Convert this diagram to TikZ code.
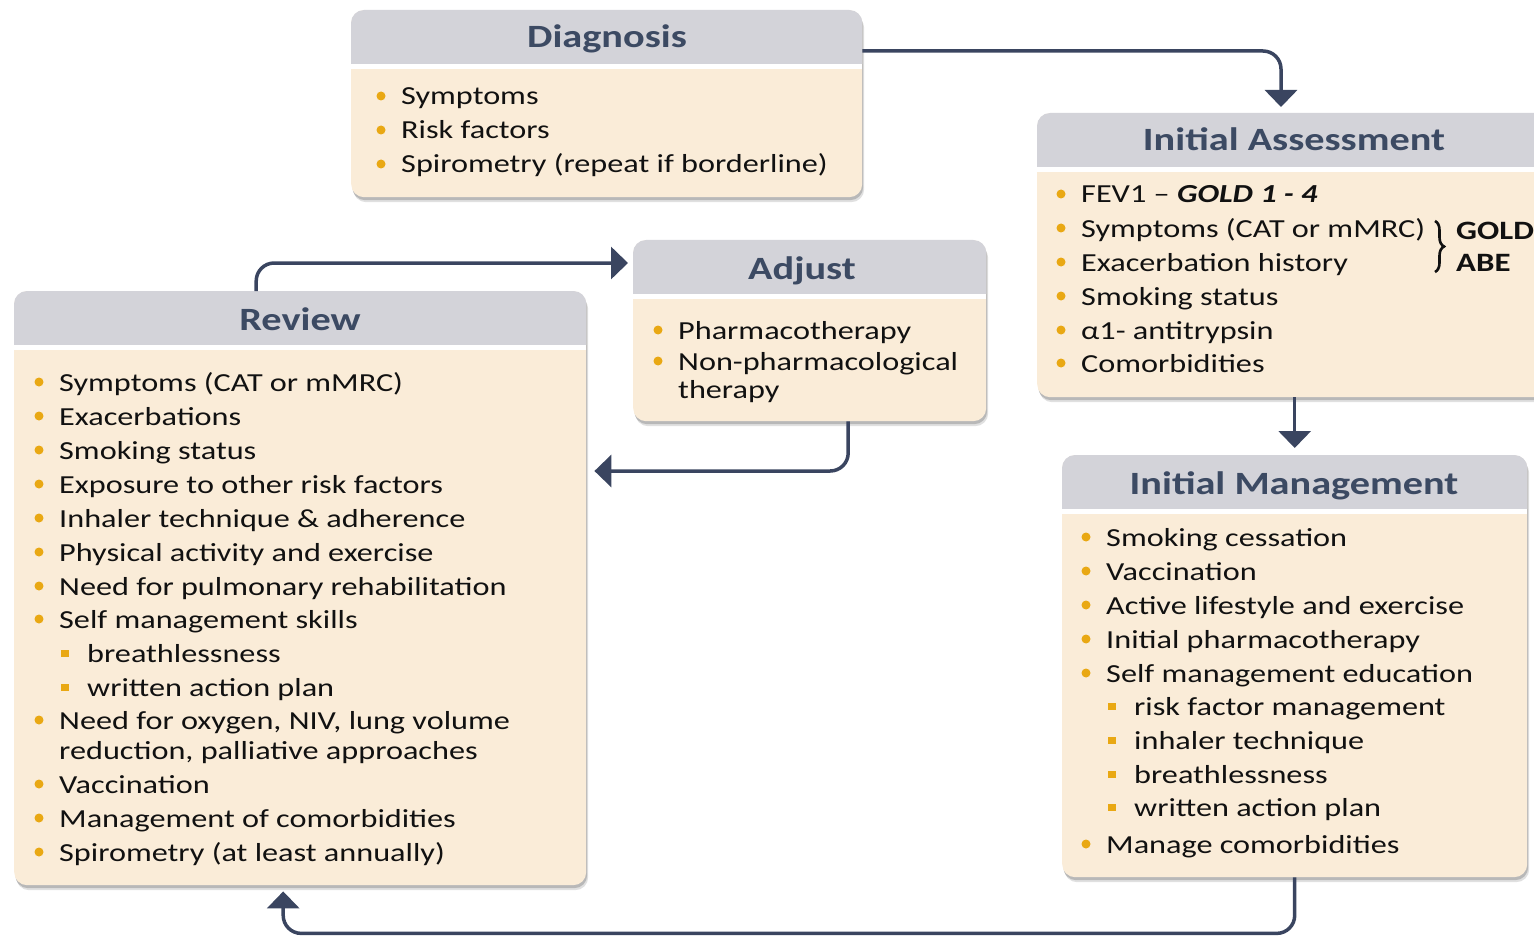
\documentclass[tikz,border=0pt]{standalone}
\usepackage{fontspec}
\setmainfont{Carlito}[FakeStretch=1.24]
\usetikzlibrary{arrows.meta,shadows,decorations.pathreplacing}
\definecolor{hdrc}{HTML}{D3D3D9}
\definecolor{bodyc}{HTML}{FAECD8}
\definecolor{bulc}{HTML}{E9A813}
\definecolor{titc}{HTML}{3C4A63}
\definecolor{arrc}{HTML}{3A4560}
\definecolor{txtc}{HTML}{111111}
\tikzset{
  box/.style={draw=none, fill=bodyc, rounded corners=13pt, anchor=north west, inner sep=0pt,
    drop shadow={shadow xshift=2pt, shadow yshift=-5pt, opacity=0.12, fill=black},
    drop shadow={shadow xshift=1pt, shadow yshift=-3pt, opacity=0.18, fill=black}},
  tit/.style={anchor=base, inner sep=0pt, font=\fontsize{32.5}{36}\selectfont\bfseries, text=titc},
  itm/.style={anchor=base west, inner sep=0pt, font=\fontsize{26}{30}\selectfont, text=txtc},
  arr/.style={draw=arrc, line width=3.5pt, rounded corners=18pt, -{Triangle[width=32pt,length=17pt]}},
}
\newcommand\hdrband[1]{%
  \fill[hdrc] ([yshift=-54pt]#1.north west) [rounded corners=13pt] -- (#1.north west) -- (#1.north east) [sharp corners] -- ([yshift=-54pt]#1.north east) -- cycle;
  \fill[white] ([yshift=-54pt]#1.north west) rectangle ([yshift=-59pt]#1.north east);}
\newcommand\bul[4]{\fill[bulc] (#2-20,#3-1) circle (4.5); \node[itm] (#1) at (#2,#3+8) {#4};}
\newcommand\sqb[4]{\fill[bulc] (#2-26,#3-4) rectangle ++(8,7); \node[itm] (#1) at (#2,#3+8) {#4};}
\newcommand\cnt[4]{\node[itm] (#1) at (#2,#3+8) {#4};}
\begin{document}
\begin{tikzpicture}[x=1pt,y=-1pt]
\useasboundingbox (0,0) rectangle (1534,936);
\clip (0,0) rectangle (1534,936);
% boxes
\node[box, minimum width=511pt, minimum height=187pt] (diag) at (351,10) {};
\node[box, minimum width=515pt, minimum height=284pt] (ia) at (1037,113) {};
\node[box, minimum width=465pt, minimum height=422pt] (im) at (1062,455) {};
\node[box, minimum width=572pt, minimum height=594pt] (rev) at (14,291) {};
\node[box, minimum width=353pt, minimum height=181pt] (adj) at (633,240) {};
\hdrband{diag}\hdrband{ia}\hdrband{im}\hdrband{rev}\hdrband{adj}
% titles
\node[tit] (diagT) at (607,48) {Diagnosis};
\node[tit] (iaT) at (1294,151) {Initial Assessment};
\node[tit] (imT) at (1294,494) {Initial Management};
\node[tit] (revT) at (300,330) {Review};
\node[tit] (adjT) at (802,279) {Adjust};
% Diagnosis items
\bul{d1}{401}{97}{Symptoms}
\bul{d2}{401}{131}{Risk factors}
\bul{d3}{401}{165}{Spirometry (repeat if borderline)}
% Initial assessment
\bul{a1}{1081}{195}{FEV1 – \textbf{\textit{GOLD 1 - 4}}}
\bul{a2}{1081}{229}{Symptoms (CAT or mMRC)}
\bul{a3}{1081}{263}{Exacerbation history}
\bul{a4}{1081}{297}{Smoking status}
\bul{a5}{1081}{331}{α1- antitrypsin}
\bul{a6}{1081}{364}{Comorbidities}
\draw[txtc, line width=2.6pt, decorate, decoration={brace, amplitude=9pt}] (1435,221) -- (1435,272);
\node[itm, font=\fontsize{26.5}{30}\selectfont\bfseries] (gold) at (1456,240) {GOLD};
\node[itm, font=\fontsize{26.5}{30}\selectfont\bfseries] (abe) at (1456,271) {ABE};
% Initial management
\bul{m1}{1106}{538}{Smoking cessation}
\bul{m2}{1106}{572}{Vaccination}
\bul{m3}{1106}{606}{Active lifestyle and exercise}
\bul{m4}{1106}{640}{Initial pharmacotherapy}
\bul{m5}{1106}{674}{Self management education}
\sqb{m6}{1134}{707}{risk factor management}
\sqb{m7}{1134}{741}{inhaler technique}
\sqb{m8}{1134}{775}{breathlessness}
\sqb{m9}{1134}{808}{written action plan}
\bul{m10}{1106}{845}{Manage comorbidities}
% Review
\bul{r1}{59}{383}{Symptoms (CAT or mMRC)}
\bul{r2}{59}{417}{Exacerbations}
\bul{r3}{59}{451}{Smoking status}
\bul{r4}{59}{485}{Exposure to other risk factors}
\bul{r5}{59}{519}{Inhaler technique \& adherence}
\bul{r6}{59}{553}{Physical activity and exercise}
\bul{r7}{59}{587}{Need for pulmonary rehabilitation}
\bul{r8}{59}{620}{Self management skills}
\sqb{r9}{87}{654}{breathlessness}
\sqb{r10}{87}{688}{written action plan}
\bul{r11}{59}{721}{Need for oxygen, NIV, lung volume}
\cnt{r11b}{59}{751}{reduction, palliative approaches}
\bul{r12}{59}{785}{Vaccination}
\bul{r13}{59}{819}{Management of comorbidities}
\bul{r14}{59}{853}{Spirometry (at least annually)}
% Adjust
\bul{j1}{678}{331}{Pharmacotherapy}
\bul{j2}{678}{362}{Non-pharmacological}
\cnt{j2b}{678}{390}{therapy}
% connectors
\draw[arr] ([yshift=-41pt]diag.north east) -| ([xshift=244pt,yshift=6pt]ia.north west);
\draw[arr] (ia.south) -- ([yshift=7pt]im.north);
\draw[arr] (im.south) -- ++(0,56) -| ([xshift=-17pt,yshift=-6pt]rev.south);
\draw[arr] ([xshift=-44pt]rev.north) |- ([xshift=-5pt,yshift=-23pt]adj.north west);
\draw[arr] ([xshift=38.5pt]adj.south) |- ([xshift=8pt,yshift=-180pt]rev.north east);
\end{tikzpicture}
\end{document}
